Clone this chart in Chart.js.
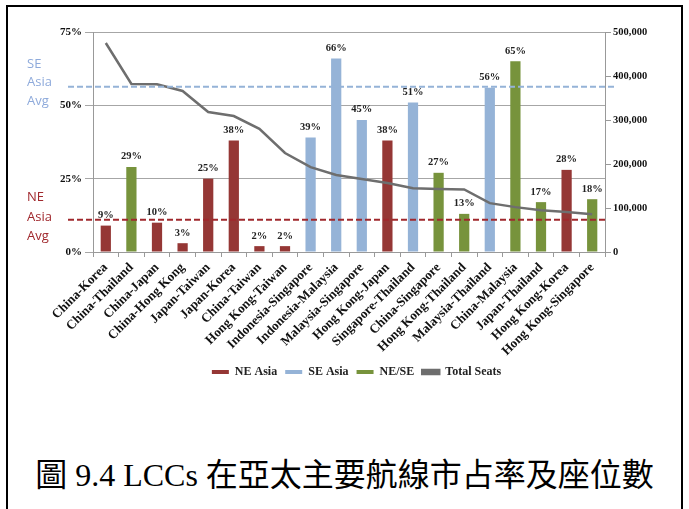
<!DOCTYPE html>
<html><head><meta charset="utf-8">
<script src="https://cdn.jsdelivr.net/npm/chart.js@4.4.1/dist/chart.umd.min.js"></script>
<style>
html,body{margin:0;padding:0;background:#fff;width:689px;height:509px;overflow:hidden}
#frame{position:absolute;left:6px;top:5px;width:677px;height:520px;border:2px solid #000;border-bottom:none;box-sizing:border-box}
#wrap{position:absolute;left:0;top:0;width:689px;height:388px}
#title{position:absolute;left:6px;width:677px;top:455px;text-align:center;font-family:"Liberation Serif","Noto Sans CJK TC",serif;font-size:32px;color:#000;line-height:40px;white-space:nowrap}
</style>
</head><body>
<div id="frame"></div>
<div id="wrap"><canvas id="c" width="689" height="388"></canvas></div>
<div id="title">圖 9.4 LCCs 在亞太主要航線市占率及座位數</div>
<script>
const categories = ["China-Korea","China-Thailand","China-Japan","China-Hong Kong","Japan-Taiwan","Japan-Korea","China-Taiwan","Hong Kong-Taiwan","Indonesia-Singapore","Indonesia-Malaysia","Malaysia-Singapore","Hong Kong-Japan","Singapore-Thailand","China-Singapore","Hong Kong-Thailand","Malaysia-Thailand","China-Malaysia","Japan-Thailand","Hong Kong-Korea","Hong Kong-Singapore"];
const neAsia = [9,null,10,3,25,38,2,2,null,null,null,38,null,null,null,null,null,null,28,null];
const seAsia = [null,null,null,null,null,null,null,null,39,66,45,null,51,null,null,56,null,null,null,null];
const neSe   = [null,29,null,null,null,null,null,null,null,null,null,null,null,27,13,null,65,17,null,18];
const totalSeats = [475000,382000,381000,366000,318000,309000,280000,225000,193000,175000,166000,157000,145000,143000,142000,111000,102000,95000,91000,86000];
const shareTicks = [0,25,50,75];
const seatTicks = [0,100000,200000,300000,400000,500000];
const seAsiaAvg = 56.3;
const neAsiaAvg = 11;

const RED = '#953735', BLUE = '#95b3d7', GREEN = '#77933c', GRAY = '#6e6e6e';
const SERIF = '"Liberation Serif", "Times New Roman", serif';

const labelPlugin = {
  id: 'barLabels',
  afterDatasetsDraw(chart) {
    const ctx = chart.ctx;
    ctx.save();
    ctx.font = 'bold 10.5px ' + SERIF;
    ctx.fillStyle = '#222';
    ctx.textAlign = 'center';
    ctx.textBaseline = 'bottom';
    chart.data.datasets.forEach((ds, di) => {
      if (ds.type === 'line') return;
      const meta = chart.getDatasetMeta(di);
      meta.data.forEach((el, i) => {
        const v = ds.data[i];
        if (v === null || v === undefined) return;
        ctx.fillText(v + '%', el.x, el.y - 5);
      });
    });
    const y = chart.scales.y;
    const drawAvg = (val, color, x0, x1) => {
      const py = y.getPixelForValue(val);
      ctx.save();
      ctx.strokeStyle = color;
      ctx.lineWidth = 2;
      ctx.setLineDash([6, 3]);
      ctx.beginPath();
      ctx.moveTo(x0, py);
      ctx.lineTo(x1, py);
      ctx.stroke();
      ctx.restore();
      return py;
    };
    const pSE = drawAvg(seAsiaAvg, BLUE, 68, 614);
    const pNE = drawAvg(neAsiaAvg, '#a0282d', 68, 608);
    ctx.font = '13px "Open Sans", "Liberation Sans", sans-serif';
    ctx.textAlign = 'left';
    ctx.textBaseline = 'middle';
    ctx.fillStyle = '#8eaadb';
    ['SE','Asia','Avg'].forEach((t, k) => ctx.fillText(t, 27, pSE - 23 + k * 18.5));
    ctx.fillStyle = '#a0282d';
    ['NE','Asia','Avg'].forEach((t, k) => ctx.fillText(t, 27, pNE - 22 + k * 19.5));
    ctx.restore();
  }
};

new Chart(document.getElementById('c'), {
  data: {
    labels: categories,
    datasets: [
      { type: 'bar', label: 'NE Asia', data: neAsia, backgroundColor: RED, yAxisID: 'y', order: 1 },
      { type: 'bar', label: 'SE Asia', data: seAsia, backgroundColor: BLUE, yAxisID: 'y', order: 1 },
      { type: 'bar', label: 'NE/SE', data: neSe, backgroundColor: GREEN, yAxisID: 'y', order: 1 },
      { type: 'line', label: 'Total Seats', data: totalSeats, borderColor: GRAY, backgroundColor: GRAY, borderWidth: 2.5, pointRadius: 0, tension: 0, yAxisID: 'y1', order: 0 }
    ]
  },
  options: {
    responsive: false,
    animation: false,
    devicePixelRatio: 1,
    layout: { padding: { top: 32, left: 24, right: 0, bottom: 0 } },
    datasets: { bar: { grouped: false, categoryPercentage: 1, barPercentage: 0.4 } },
    plugins: {
      tooltip: { enabled: false },
      legend: {
        position: 'bottom',
        labels: {
          sort: (a, b) => a.datasetIndex - b.datasetIndex,
          boxWidth: 17, boxHeight: 4, padding: 8,
          color: '#222',
          font: { family: SERIF, size: 12, weight: 'bold' }
        }
      }
    },
    scales: {
      x: {
        offset: true,
        grid: { drawOnChartArea: false, color: '#999', tickLength: 5, offset: true },
        border: { color: '#999' },
        ticks: { autoSkip: false, maxRotation: 45, minRotation: 45, color: '#111', padding: 3, font: { family: SERIF, size: 13, weight: 'bold' } },
        afterFit(s) { s.height = 106; }
      },
      y: {
        position: 'left', min: 0, max: 75,
        afterBuildTicks(s) { s.ticks = shareTicks.map(v => ({ value: v })); },
        ticks: { callback: v => v + '%', color: '#111', padding: 3, font: { family: SERIF, size: 11, weight: 'bold' } },
        grid: { color: '#a6a6a6', tickLength: 8 },
        border: { color: '#999' },
        afterFit(s) { s.width = 69; }
      },
      y1: {
        position: 'right', min: 0, max: 500000,
        afterBuildTicks(s) { s.ticks = seatTicks.map(v => ({ value: v })); },
        ticks: { callback: v => v.toLocaleString('en-US'), color: '#111', padding: 2, font: { family: SERIF, size: 10.5, weight: 'bold' } },
        grid: { drawOnChartArea: false, color: '#999', tickLength: 6 },
        border: { color: '#999' },
        afterFit(s) { s.width = 84; }
      }
    }
  },
  plugins: [labelPlugin]
});
</script>
</body></html>
